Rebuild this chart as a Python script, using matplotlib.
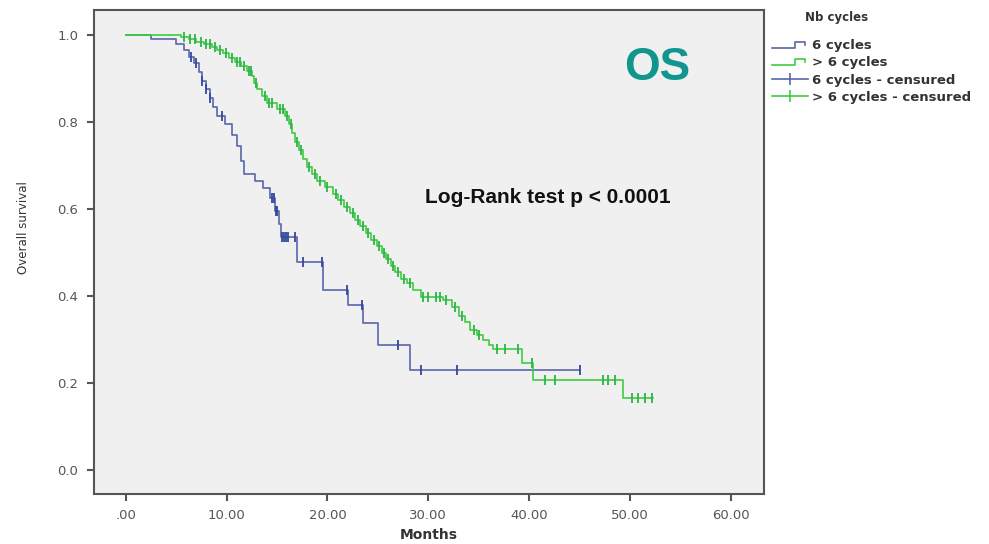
import numpy as np
import matplotlib
matplotlib.use("Agg")
import matplotlib.pyplot as plt
from matplotlib.lines import Line2D
from matplotlib.legend_handler import HandlerBase

# Kaplan-Meier steps: time (months) -> survival after the drop
times_6 = [0, 2.5, 5.0, 5.8, 6.3, 6.8, 7.3, 7.6, 8.0, 8.3, 8.6, 9.0, 9.8, 10.5, 11.0,
           11.4, 11.7, 12.8, 13.6, 14.3, 14.8, 15.2, 15.4, 17.0, 19.6, 22.0, 23.5,
           25.0, 28.2, 45.0]
surv_6 = [1.0, 0.99, 0.98, 0.965, 0.95, 0.935, 0.915, 0.895, 0.875, 0.855, 0.835,
          0.815, 0.795, 0.77, 0.745, 0.71, 0.68, 0.665, 0.648, 0.625, 0.595, 0.565,
          0.535, 0.478, 0.414, 0.379, 0.338, 0.287, 0.23, 0.23]
cens_6 = [6.5, 7.0, 7.6, 8.0, 8.3, 9.5, 14.5, 14.7, 14.9, 15.0, 15.5, 15.7, 15.9,
          16.1, 16.8, 17.6, 19.5, 21.9, 23.4, 27.0, 29.3, 32.8, 45.0]

times_gt6 = [0, 5.5, 6.3, 7.0, 7.8, 8.5, 9.0, 9.6, 10.2, 10.8, 11.4, 12.0, 12.5, 12.7,
             13.0, 13.5, 14.0, 15.0, 15.8, 16.2, 16.5, 16.8, 17.2, 17.6, 18.0, 18.5,
             19.0, 19.8, 20.5, 21.0, 21.6, 22.2, 22.7, 23.2, 23.8, 24.3, 24.9, 25.4,
             25.8, 26.3, 26.7, 27.3, 27.9, 28.5, 29.3, 31.5, 32.3, 33.0, 33.6, 34.1,
             34.8, 35.4, 36.0, 36.4, 39.3, 40.4, 49.3, 52.3]
surv_gt6 = [1.0, 0.995, 0.99, 0.985, 0.98, 0.972, 0.965, 0.958, 0.948, 0.938, 0.928,
            0.918, 0.905, 0.89, 0.875, 0.86, 0.845, 0.83, 0.815, 0.795, 0.775, 0.755,
            0.735, 0.715, 0.697, 0.68, 0.665, 0.65, 0.635, 0.62, 0.605, 0.59, 0.575,
            0.56, 0.545, 0.53, 0.515, 0.5, 0.485, 0.47, 0.455, 0.44, 0.43, 0.415,
            0.398, 0.39, 0.375, 0.355, 0.34, 0.322, 0.31, 0.299, 0.288, 0.278, 0.246,
            0.207, 0.165, 0.165]
cens_gt6 = [5.8, 6.4, 6.9, 7.5, 8.0, 8.3, 8.8, 9.3, 9.9, 10.5, 11.0, 11.3, 11.7, 12.2,
            12.4, 12.9, 13.8, 14.2, 14.5, 15.3, 15.6, 16.0, 16.4, 17.0, 17.4, 18.2,
            18.8, 19.3, 20.0, 20.8, 21.3, 21.9, 22.5, 23.0, 23.5, 24.0, 24.6, 25.1,
            25.6, 26.0, 26.5, 27.0, 27.6, 28.2, 29.5, 30.0, 30.8, 31.2, 31.8, 32.6,
            33.3, 34.5, 35.0, 36.8, 37.6, 38.9, 40.3, 41.6, 42.6, 47.3, 47.8, 48.5,
            50.2, 50.8, 51.5, 52.2]

x_ticks = [0, 10, 20, 30, 40, 50, 60]
x_labels = [".00", "10.00", "20.00", "30.00", "40.00", "50.00", "60.00"]
y_ticks = [0.0, 0.2, 0.4, 0.6, 0.8, 1.0]

BLUE, BLUE_MARK = "#5866a8", "#34479e"
GREEN, GREEN_MARK = "#3fcc3f", "#2bb54a"


def surv_at(times, surv, t):
    idx = np.searchsorted(times, t, side="right") - 1
    return np.asarray(surv)[idx]


class StepHandler(HandlerBase):
    # little step glyph like the SPSS legend
    def create_artists(self, legend, orig_handle, xdescent, ydescent, width, height,
                       fontsize, trans):
        fx = np.array([0.0, 0.62, 0.62, 0.92, 0.92])
        fy = np.array([0.15, 0.15, 0.75, 0.75, 0.45])
        ln = Line2D(fx * width - xdescent, fy * height - ydescent,
                    color=orig_handle.get_color(), lw=orig_handle.get_linewidth())
        ln.set_transform(trans)
        return [ln]


fig = plt.figure(figsize=(9.89, 5.44), dpi=100)
ax = fig.add_axes([0.0946, 0.092, 0.678, 0.889])
ax.set_facecolor("#f0f0f0")

ax.step(times_6, surv_6, where="post", color=BLUE, lw=1.2)
ax.step(times_gt6, surv_gt6, where="post", color=GREEN, lw=1.2)
ax.plot(cens_6, surv_at(times_6, surv_6, cens_6), ls="none", marker="|",
        ms=7, mew=1.3, color=BLUE_MARK)
ax.plot(cens_gt6, surv_at(times_gt6, surv_gt6, cens_gt6), ls="none", marker="|",
        ms=7, mew=1.3, color=GREEN_MARK)

ax.set_xlim(-3.2, 63.3)
ax.set_ylim(-0.055, 1.057)
ax.set_xticks(x_ticks)
ax.set_xticklabels(x_labels)
ax.set_yticks(y_ticks)
ax.set_yticklabels([f"{v:.1f}" for v in y_ticks])
ax.tick_params(direction="out", length=5, width=1.5, color="#555555",
               labelcolor="#555555", labelsize=9.5, pad=6)
for sp in ax.spines.values():
    sp.set_color("#555555")
    sp.set_linewidth(1.5)

ax.set_xlabel("Months", fontsize=10, fontweight="bold", color="#333333", labelpad=4)
ax.set_ylabel("Overall survival", fontsize=8.5, color="#333333")
ax.yaxis.set_label_coords(-0.095, 0.55)

ax.text(0.678, 0.614, "Log-Rank test p < 0.0001", transform=ax.transAxes,
        ha="center", va="center", fontsize=15, fontweight="bold",
        family="Liberation Sans", color="#111111")
fig.text(0.664, 0.875, "OS", ha="center", va="center", fontsize=33,
         fontweight="bold", family="Liberation Sans", color="#11958f")

handles = [
    Line2D([], [], color=BLUE, lw=1.2),
    Line2D([], [], color=GREEN, lw=1.2),
    Line2D([], [], color=BLUE, lw=1.2, marker="|", ms=9, mew=1.2),
    Line2D([], [], color=GREEN, lw=1.2, marker="|", ms=9, mew=1.2),
]
labels = ["6 cycles", "> 6 cycles", "6 cycles - censured", "> 6 cycles - censured"]
fig.text(0.814, 0.968, "Nb cycles", fontsize=8.5, fontweight="bold",
         color="#333333", va="center")
leg = fig.legend(handles, labels, loc="upper left", bbox_to_anchor=(0.7806, 0.928),
                 frameon=False, fontsize=9.5, handlelength=2.75, handletextpad=0.25,
                 labelspacing=0.32, numpoints=1, borderaxespad=0, borderpad=0,
                 handler_map={handles[0]: StepHandler(), handles[1]: StepHandler()})
for t in leg.get_texts():
    t.set_fontweight("bold")
    t.set_color("#333333")

fig.savefig("out.png", dpi=100)
